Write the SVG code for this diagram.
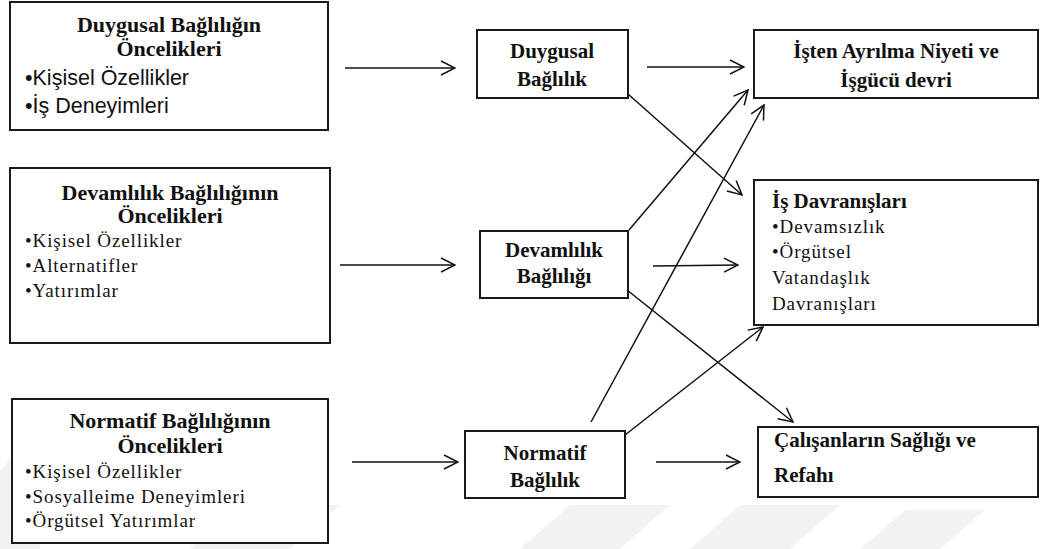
<svg xmlns="http://www.w3.org/2000/svg" width="1041" height="549" viewBox="0 0 1041 549">
<style>
.box{fill:#fff;stroke:#1a1a1a;stroke-width:2}
.t{font-family:"Liberation Serif","Times New Roman",serif;fill:#111}
.b{font-weight:bold;font-size:21px}
.hb{font-weight:bold;font-size:22px}
.r{font-size:19px;letter-spacing:0.9px}
.s{font-family:"Liberation Sans",Arial,sans-serif;font-size:21.5px;fill:#111}
.mid{text-anchor:middle}
.ln{stroke:#111;stroke-width:1.5;fill:none;marker-end:url(#ah)}
.wm{fill:#f2f2f2}
</style>
<defs>
<marker id="ah" markerUnits="userSpaceOnUse" viewBox="0 0 16 16" refX="15" refY="8" markerWidth="16" markerHeight="16" orient="auto">
<path d="M1,1 L15,8 L1,15" fill="none" stroke="#111" stroke-width="1.5"/>
</marker>
</defs>
<g id="watermark">
<polygon class="wm" points="0,470 30,440 40,440 40,549 0,549"/>
<polygon class="wm" points="190,549 290,549 340,505 240,505"/>
<polygon class="wm" points="520,549 620,549 670,505 570,505"/>
<polygon class="wm" points="690,549 790,549 840,505 740,505"/>
<polygon class="wm" points="860,549 940,549 985,510 905,510"/>
</g>
<g id="n1">
<rect class="box" x="10" y="2" width="318" height="128"/>
<text class="t hb mid" x="169" y="32">Duygusal Bağlılığın</text>
<text class="t hb mid" x="169" y="56">Öncelikleri</text>
<text class="s" x="25" y="85">•Kişisel Özellikler</text>
<text class="s" x="25" y="113">•İş Deneyimleri</text>
</g>
<g id="n2">
<rect class="box" x="10" y="168" width="320" height="175"/>
<text class="t hb mid" x="170" y="200">Devamlılık Bağlılığının</text>
<text class="t hb mid" x="170" y="223">Öncelikleri</text>
<text class="t r" x="25" y="247">•Kişisel Özellikler</text>
<text class="t r" x="25" y="272">•Alternatifler</text>
<text class="t r" x="25" y="297">•Yatırımlar</text>
</g>
<g id="n3">
<rect class="box" x="12" y="399" width="316" height="144"/>
<text class="t hb mid" x="170" y="428">Normatif Bağlılığının</text>
<text class="t hb mid" x="170" y="453">Öncelikleri</text>
<text class="t r" x="25" y="478">•Kişisel Özellikler</text>
<text class="t r" x="25" y="503">•Sosyalleime Deneyimleri</text>
<text class="t r" x="25" y="527">•Örgütsel Yatırımlar</text>
</g>
<g id="n4">
<rect class="box" x="477" y="30" width="151" height="68"/>
<text class="t b mid" x="552" y="58">Duygusal</text>
<text class="t b mid" x="552" y="86">Bağlılık</text>
</g>
<g id="n5">
<rect class="box" x="480" y="231" width="148" height="67"/>
<text class="t b mid" x="554" y="257">Devamlılık</text>
<text class="t b mid" x="554" y="283">Bağlılığı</text>
</g>
<g id="n6">
<rect class="box" x="465" y="431" width="160" height="67"/>
<text class="t b mid" x="545" y="460">Normatif</text>
<text class="t b mid" x="545" y="487">Bağlılık</text>
</g>
<g id="n7">
<rect class="box" x="754" y="30" width="284" height="68"/>
<text class="t b mid" x="896" y="58">İşten Ayrılma Niyeti ve</text>
<text class="t b mid" x="896" y="87">İşgücü devri</text>
</g>
<g id="n8">
<rect class="box" x="754" y="180" width="284" height="145"/>
<text class="t b" x="772" y="208">İş Davranışları</text>
<text class="t r" x="772" y="233">•Devamsızlık</text>
<text class="t r" x="772" y="258">•Örgütsel</text>
<text class="t r" x="772" y="284">Vatandaşlık</text>
<text class="t r" x="772" y="310">Davranışları</text>
</g>
<g id="n9">
<rect class="box" x="758" y="427" width="280" height="70"/>
<text class="t b" x="774" y="447">Çalışanların Sağlığı ve</text>
<text class="t b" x="774" y="482">Refahı</text>
</g>
<g id="connectors">
<line class="ln" x1="345" y1="68" x2="455" y2="68"/>
<line class="ln" x1="340" y1="265" x2="455" y2="265"/>
<line class="ln" x1="352" y1="462" x2="458" y2="462"/>
<line class="ln" x1="647" y1="67" x2="744" y2="67"/>
<line class="ln" x1="653" y1="266" x2="738" y2="265"/>
<line class="ln" x1="656" y1="462" x2="740" y2="462"/>
<line class="ln" x1="628" y1="94" x2="742" y2="195"/>
<line class="ln" x1="629" y1="230" x2="748" y2="90"/>
<line class="ln" x1="591" y1="422" x2="764" y2="105"/>
<line class="ln" x1="627" y1="290" x2="793" y2="422"/>
<line class="ln" x1="625" y1="435" x2="763" y2="327"/>
</g>
</svg>
